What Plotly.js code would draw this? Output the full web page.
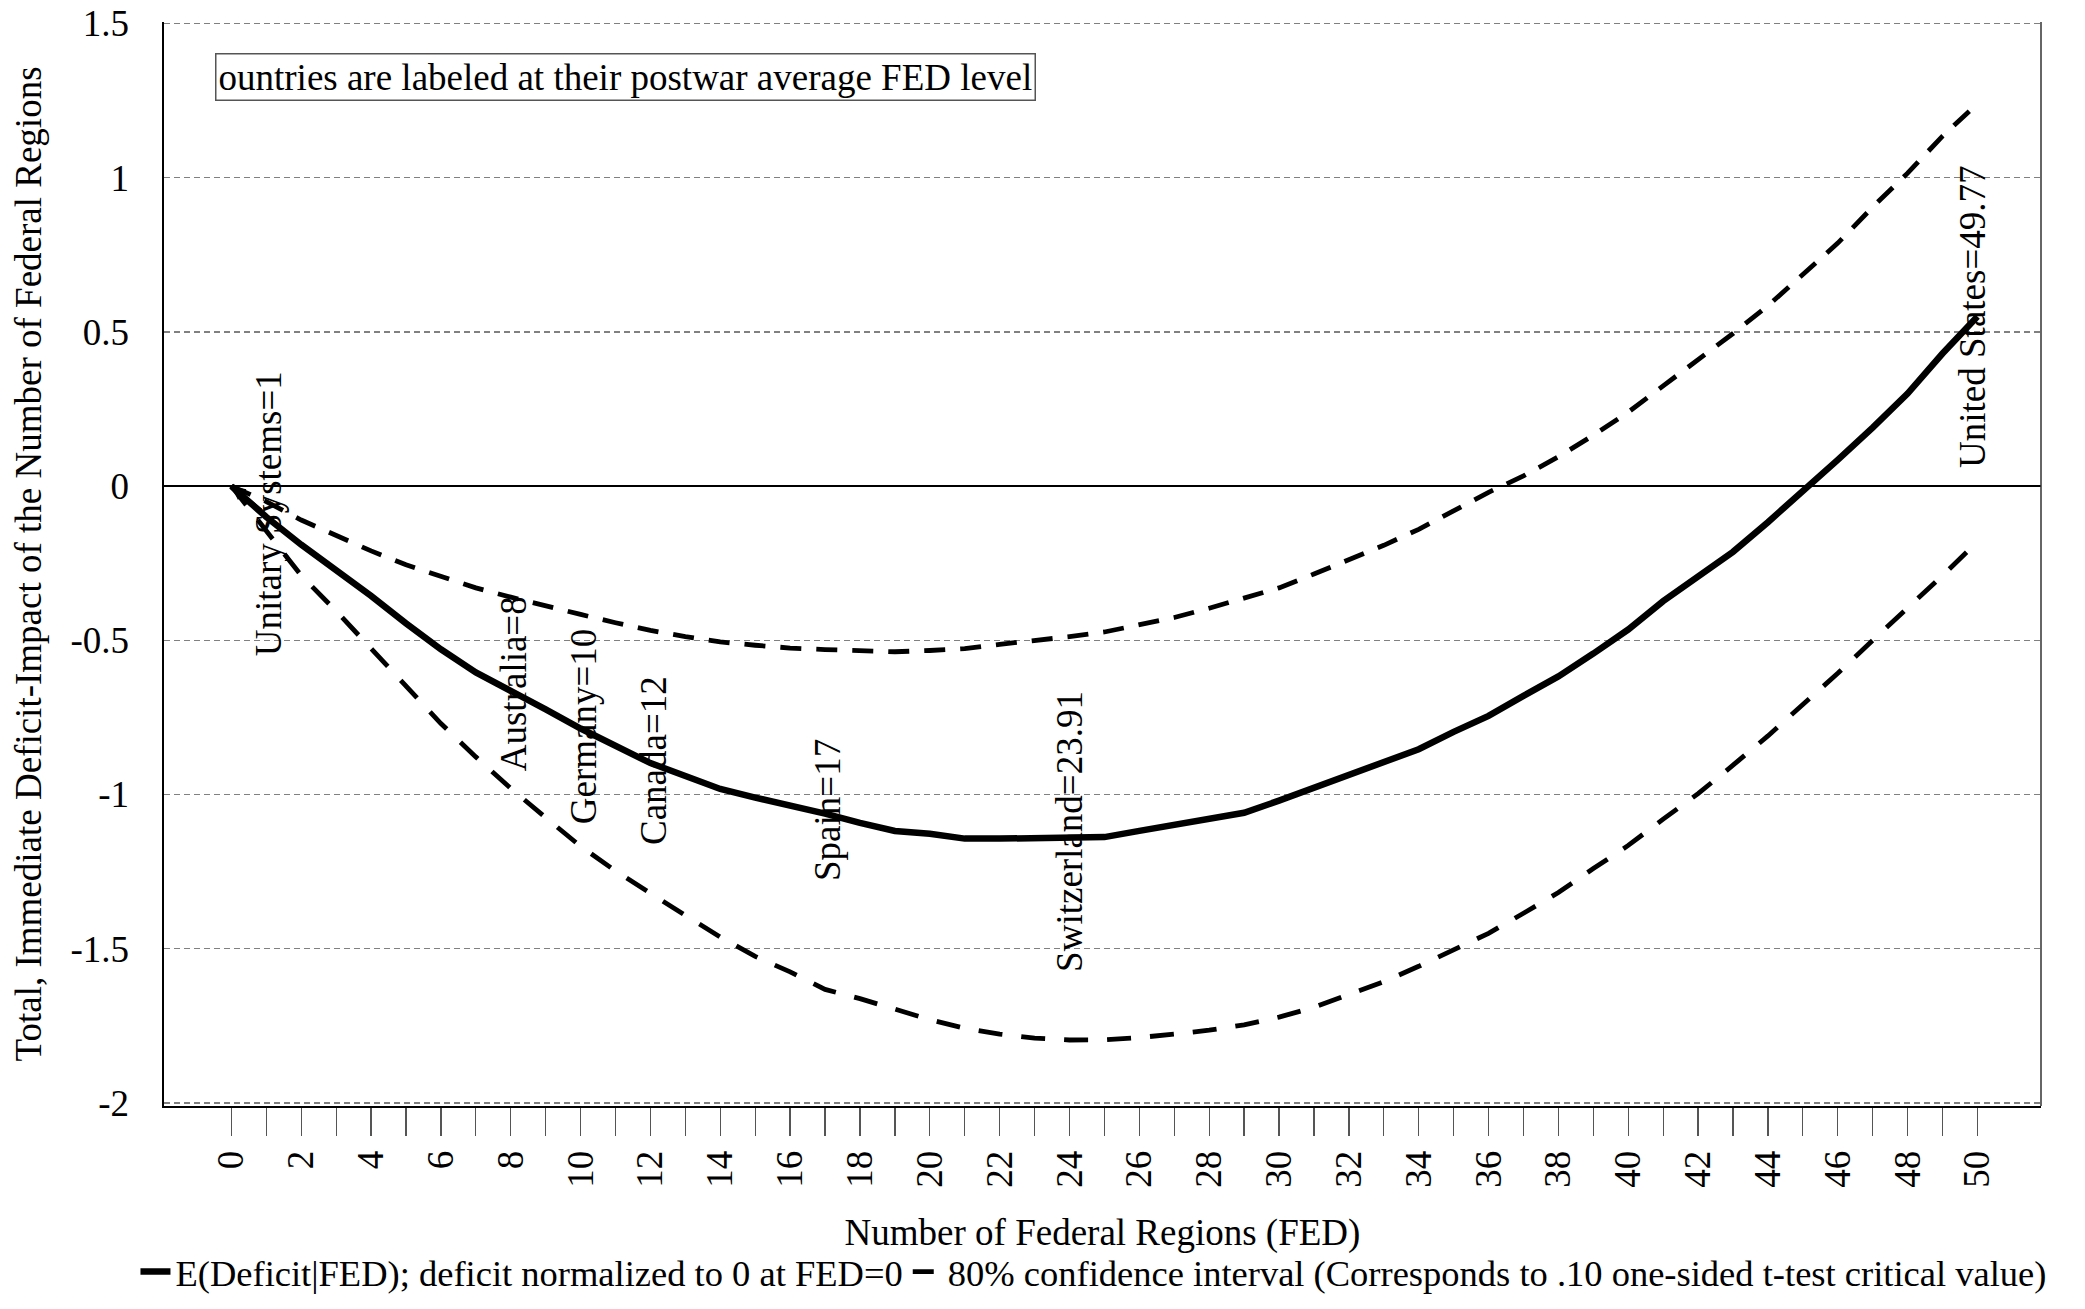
<!DOCTYPE html>
<html>
<head>
<meta charset="utf-8">
<script src="https://cdn.plot.ly/plotly-3.0.1.min.js"></script>
<style>
  html, body { margin: 0; padding: 0; background: #fff; }
  #chart { width: 2085px; height: 1309px; }
</style>
</head>
<body>
<div id="chart"></div>
<script>
// ---- data ----
const fed = [0,1,2,3,4,5,6,7,8,9,10,11,12,13,14,15,16,17,18,19,20,21,22,23,24,25,26,27,28,29,30,31,32,33,34,35,36,37,38,39,40,41,42,43,44,45,46,47,48,49,50];

const expectedDeficit = [0,-0.10,-0.19,-0.27,-0.356,-0.445,-0.529,-0.604,-0.662,-0.724,-0.786,-0.843,-0.898,-0.94,-0.982,-1.01,-1.035,-1.062,-1.092,-1.118,-1.127,-1.143,-1.143,-1.143,-1.143,-1.138,-1.118,-1.097,-1.078,-1.059,-1.02,-0.978,-0.94,-0.898,-0.853,-0.797,-0.745,-0.68,-0.617,-0.543,-0.465,-0.373,-0.293,-0.213,-0.117,-0.019,0.085,0.19,0.30,0.43,0.55];

const upperCI = [0,-0.05,-0.11,-0.16,-0.21,-0.255,-0.292,-0.33,-0.36,-0.39,-0.416,-0.443,-0.468,-0.488,-0.505,-0.516,-0.525,-0.53,-0.535,-0.537,-0.533,-0.527,-0.513,-0.502,-0.488,-0.473,-0.45,-0.426,-0.396,-0.364,-0.33,-0.285,-0.24,-0.192,-0.14,-0.08,-0.02,0.033,0.095,0.165,0.24,0.325,0.41,0.495,0.585,0.685,0.788,0.905,1.015,1.135,1.24];

const lowerCI = [0,-0.145,-0.29,-0.405,-0.525,-0.65,-0.77,-0.878,-0.98,-1.075,-1.168,-1.248,-1.322,-1.392,-1.462,-1.525,-1.575,-1.632,-1.662,-1.698,-1.73,-1.758,-1.777,-1.79,-1.796,-1.795,-1.788,-1.777,-1.764,-1.747,-1.722,-1.69,-1.65,-1.607,-1.557,-1.503,-1.45,-1.385,-1.318,-1.24,-1.165,-1.08,-0.997,-0.905,-0.81,-0.708,-0.607,-0.5,-0.397,-0.29,-0.18];

const countryNames = ["Unitary Systems", "Australia", "Germany", "Canada", "Spain", "Switzerland", "United States"];
const countryFED   = ["1", "8", "10", "12", "17", "23.91", "49.77"];
const countryX     = [1, 8, 10, 12, 17, 23.91, 49.77];
const countryLabelY = [-0.09, -0.64, -0.78, -0.89, -1.05, -1.12, 0.55];

const xTickVals   = [0,2,4,6,8,10,12,14,16,18,20,22,24,26,28,30,32,34,36,38,40,42,44,46,48,50];
const xTickLabels = ["0","2","4","6","8","10","12","14","16","18","20","22","24","26","28","30","32","34","36","38","40","42","44","46","48","50"];
const xMinorTickVals = [1,3,5,7,9,11,13,15,17,19,21,23,25,27,29,31,33,35,37,39,41,43,45,47,49];
const yTickVals   = [1.5, 1, 0.5, 0, -0.5, -1, -1.5, -2];
const yTickLabels = ["1.5", "1", "0.5", "0", "-0.5", "-1", "-1.5", "-2"];

const seriesNames = [
  "E(Deficit|FED); deficit normalized to 0 at FED=0",
  "80% confidence interval (Corresponds to .10 one-sided t-test critical value)"
];
const noteText = "ountries are labeled at their postwar average FED level";
const xTitle = "Number of Federal Regions (FED)";
const yTitle = "Total, Immediate Deficit-Impact of the Number of Federal Regions";

// ---- chart ----
const FONT = "Liberation Serif, Times New Roman, serif";

const traces = [
  {
    x: fed, y: expectedDeficit, type: "scatter", mode: "lines",
    name: seriesNames[0], showlegend: true,
    line: { color: "#000", width: 6.5 },
    hoverinfo: "x+y"
  },
  {
    x: fed, y: upperCI, type: "scatter", mode: "lines",
    name: seriesNames[1], legendgroup: "ci", showlegend: true,
    line: { color: "#000", width: 4.8, dash: "21px,15px" },
    hoverinfo: "x+y"
  },
  {
    x: fed, y: lowerCI, type: "scatter", mode: "lines",
    name: seriesNames[1], legendgroup: "ci", showlegend: false,
    line: { color: "#000", width: 4.8, dash: "24px,19px" },
    hoverinfo: "x+y"
  }
];

const annotations = countryNames.map((n, i) => ({
  x: countryX[i], y: countryLabelY[i], xref: "x", yref: "y",
  text: n + "=" + countryFED[i], showarrow: false, textangle: -90,
  xanchor: "center", yanchor: "middle", xshift: 3,
  font: { family: FONT, size: 37, color: "#000" }
}));

// leader arrow pointing to FED = 0
annotations.push({
  x: fed[0], y: expectedDeficit[0], xref: "x", yref: "y",
  ax: 0.9, ay: -0.08, axref: "x", ayref: "y",
  text: "", showarrow: true, arrowhead: 2, arrowsize: 1.1, arrowwidth: 2.5, arrowcolor: "#000"
});

// note box
annotations.push({
  x: 0.0272, y: 0.971, xref: "paper", yref: "paper",
  xanchor: "left", yanchor: "top", align: "left",
  text: noteText, showarrow: false,
  bordercolor: "#555", borderwidth: 1.5, borderpad: 2, bgcolor: "#fff",
  font: { family: FONT, size: 37, color: "#000" }
});

const layout = {
  width: 2085, height: 1309,
  margin: { l: 164, r: 44, t: 22, b: 203, pad: 0, autoexpand: false },
  paper_bgcolor: "#fff", plot_bgcolor: "#fff",
  font: { family: FONT, size: 37, color: "#000" },
  showlegend: true,
  legend: {
    orientation: "h", xref: "paper", yref: "paper",
    x: -0.0152, y: -0.153, xanchor: "left", yanchor: "middle",
    font: { family: FONT, size: 36.5, color: "#000" },
    bgcolor: "rgba(0,0,0,0)", traceorder: "normal", itemwidth: 30
  },
  xaxis: {
    range: [-1.93, 51.82], fixedrange: true,
    tickmode: "array", tickvals: xTickVals, ticktext: xTickLabels, tickangle: -90,
    ticks: "outside", ticklen: 28, tickwidth: 1.3, tickcolor: "#555",
    minor: { tickmode: "array", tickvals: xMinorTickVals, ticks: "outside", ticklen: 28, tickwidth: 1.3, tickcolor: "#555", showgrid: false },
    ticklabelstandoff: 0,
    showline: true, linecolor: "#000", linewidth: 2,
    zeroline: false, showgrid: false,
    tickfont: { family: FONT, size: 37, color: "#000" },
    title: { text: xTitle, standoff: 32, font: { family: FONT, size: 37, color: "#000" } },
    automargin: false
  },
  yaxis: {
    range: [-2.01, 1.505], fixedrange: true,
    tickmode: "array", tickvals: yTickVals, ticktext: yTickLabels,
    ticks: "", ticklabelstandoff: 25,
    showline: true, linecolor: "#000", linewidth: 2.5,
    showgrid: true, gridcolor: "#808080", gridwidth: 1.3, griddash: "6px,4px",
    zeroline: true, zerolinecolor: "#000", zerolinewidth: 2,
    tickfont: { family: FONT, size: 37, color: "#000" },
    title: { text: yTitle, standoff: 18, font: { family: FONT, size: 37, color: "#000" } },
    automargin: false
  },
  shapes: [
    { type: "line", xref: "paper", yref: "paper", x0: 1, x1: 1, y0: 0, y1: 1,
      line: { color: "#333", width: 1.5 } }
  ],
  annotations: annotations
};

Plotly.newPlot("chart", traces, layout, { displayModeBar: false, staticPlot: true });
</script>
</body>
</html>
